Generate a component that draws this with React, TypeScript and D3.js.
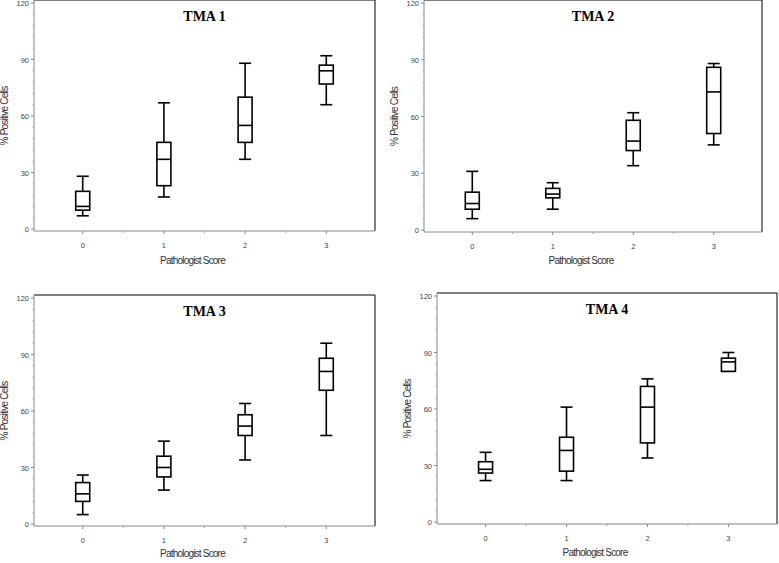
import React from 'react';
import * as d3 from 'd3';

const scores = [0, 1, 2, 3];
const panelTitles = ['TMA 1', 'TMA 2', 'TMA 3', 'TMA 4'];
// [min, q1, median, q3, max] per score
const tma1 = [[7, 10, 12, 20, 28], [17, 23, 37, 46, 67], [37, 46, 55, 70, 88], [66, 77, 84, 87, 92]];
const tma2 = [[6, 11, 14, 20, 31], [11, 17, 19, 22, 25], [34, 42, 47, 58, 62], [45, 51, 73, 86, 88]];
const tma3 = [[5, 12, 16, 22, 26], [18, 25, 30, 36, 44], [34, 47, 52, 58, 64], [47, 71, 81, 88, 96]];
const tma4 = [[22, 26, 28, 32, 37], [22, 27, 38, 45, 61], [34, 42, 61, 72, 76], [80, 80, 85, 87, 90]];
const yTicks = [0, 30, 60, 90, 120];

const panels = [
  { data: tma1, left: 34, right: 375, top: 3, bottom: 229, labelY: 264 },
  { data: tma2, left: 424, right: 762, top: 3, bottom: 230, labelY: 264 },
  { data: tma3, left: 34, right: 375, top: 298, bottom: 524, labelY: 557 },
  { data: tma4, left: 437, right: 777, top: 296, bottom: 522, labelY: 556 },
];

const Panel = ({ p, title }: { p: typeof panels[0]; title: string }) => {
  const x = d3.scaleLinear().domain([-0.6, 3.6]).range([p.left, p.right]);
  const y = d3.scaleLinear().domain([0, 120]).range([p.bottom, p.top]);
  const ax = p.bottom + 2;
  const bw = 7, cw = 6;
  const minor = d3.range(0, 121, 6).filter(v => v % 30 !== 0);
  return (
    <g fontFamily="Arial, 'Liberation Sans', sans-serif">
      <line x1={p.left} x2={p.right} y1={p.top - 3} y2={p.top - 3} stroke="#000" />
      <line x1={p.right} x2={p.right} y1={p.top - 3} y2={ax} stroke="#000" />
      <line x1={p.left} x2={p.left} y1={p.top - 3} y2={ax} stroke="#888" />
      <line x1={p.left} x2={p.right} y1={ax} y2={ax} stroke="#888" />
      {yTicks.map(t => (
        <g key={t}>
          <line x1={p.left - 3} x2={p.left} y1={y(t)} y2={y(t)} stroke="#888" />
          <text x={p.left - 5} y={y(t) + 3} fontSize={7.5} textAnchor="end" fill="#444">{t}</text>
        </g>
      ))}
      {minor.map(t => <line key={t} x1={p.left - 1.5} x2={p.left} y1={y(t)} y2={y(t)} stroke="#aaa" />)}
      {scores.map(s => (
        <g key={s}>
          <line x1={x(s)} x2={x(s)} y1={ax} y2={ax + 3} stroke="#888" />
          <text x={x(s)} y={ax + 17} fontSize={7.5} textAnchor="middle" fill="#444">{s}</text>
        </g>
      ))}
      {[0.5, 1.5, 2.5].map(s => <line key={s} x1={x(s)} x2={x(s)} y1={ax} y2={ax + 2} stroke="#aaa" />)}
      <text x={(p.left + p.right) / 2 - 12} y={p.labelY} fontSize={10} textAnchor="middle" fill="#333" letterSpacing={-0.8}>Pathologist Score</text>
      <text transform={`translate(${p.left - 26},${(p.top + p.bottom) / 2}) rotate(-90)`} fontSize={10} textAnchor="middle" fill="#333" letterSpacing={-0.8}>% Positive Cells</text>
      <text x={(p.left + p.right) / 2} y={p.top + 18} fontSize={14} fontWeight="bold" textAnchor="middle" fontFamily="'Liberation Serif', 'Times New Roman', serif">{title}</text>
      {p.data.map((d, i) => {
        const cx = x(scores[i]);
        return (
          <g key={i} stroke="#000" strokeWidth={1.6} fill="none">
            <line x1={cx} x2={cx} y1={y(d[0])} y2={y(d[1])} />
            <line x1={cx} x2={cx} y1={y(d[3])} y2={y(d[4])} />
            <line x1={cx - cw} x2={cx + cw} y1={y(d[0])} y2={y(d[0])} />
            <line x1={cx - cw} x2={cx + cw} y1={y(d[4])} y2={y(d[4])} />
            <rect x={cx - bw} width={bw * 2} y={y(d[3])} height={y(d[1]) - y(d[3])} fill="#fff" />
            <line x1={cx - bw} x2={cx + bw} y1={y(d[2])} y2={y(d[2])} />
          </g>
        );
      })}
    </g>
  );
};

export default function App() {
  return (
    <svg width={779} height={563} style={{ position: 'absolute', left: 0, top: 0, background: '#fff' }}>
      <rect width={779} height={563} fill="#fff" />
      {panels.map((p, i) => <Panel key={i} p={p} title={panelTitles[i]} />)}
    </svg>
  );
}
